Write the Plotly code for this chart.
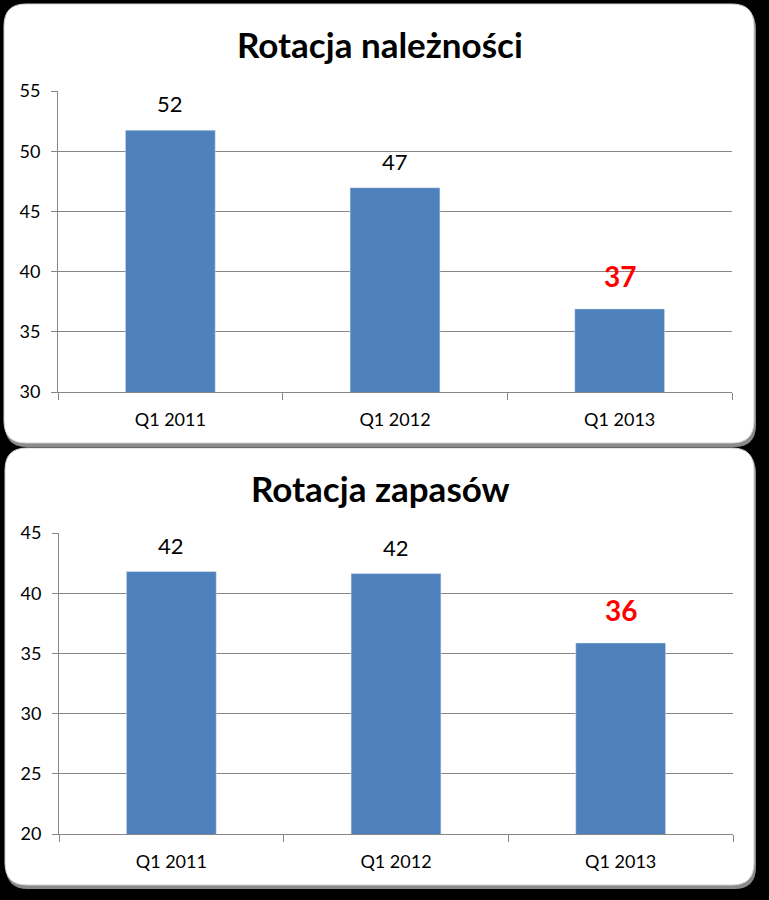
import plotly.graph_objects as go

W, H = 769, 900

categories = ["Q1 2011", "Q1 2012", "Q1 2013"]
naleznosci = [51.75, 46.97, 36.9]
zapasy = [41.8, 41.63, 35.87]
label_colors = ["black", "black", "#ff0000"]

BLUE = "#4f81bd"
GRID = "#868686"
FONT = "Lato, Carlito, Calibri, sans-serif"


def px_x(x):
    return x / W


def px_y(y):
    return 1 - y / H


def rounded_rect(x0, y0, x1, y1, r):
    # path in paper coords built from pixel corners
    pts = [
        f"M {px_x(x0 + r)},{px_y(y0)}",
        f"L {px_x(x1 - r)},{px_y(y0)}",
        f"Q {px_x(x1)},{px_y(y0)} {px_x(x1)},{px_y(y0 + r)}",
        f"L {px_x(x1)},{px_y(y1 - r)}",
        f"Q {px_x(x1)},{px_y(y1)} {px_x(x1 - r)},{px_y(y1)}",
        f"L {px_x(x0 + r)},{px_y(y1)}",
        f"Q {px_x(x0)},{px_y(y1)} {px_x(x0)},{px_y(y1 - r)}",
        f"L {px_x(x0)},{px_y(y0 + r)}",
        f"Q {px_x(x0)},{px_y(y0)} {px_x(x0 + r)},{px_y(y0)}",
        "Z",
    ]
    return " ".join(pts)


panels = [(4, 4, 754, 443), (5, 448, 754, 885)]

shapes = []
for (x0, y0, x1, y1) in panels:
    # soft grey shadow under each panel
    shapes.append(dict(type="path", xref="paper", yref="paper", layer="below",
                       path=rounded_rect(x0 + 1, y0 + 3, x1 + 2, y1 + 4, 22),
                       fillcolor="#8a8a8a", line=dict(width=0)))
    shapes.append(dict(type="path", xref="paper", yref="paper", layer="below",
                       path=rounded_rect(x0, y0, x1, y1, 22),
                       fillcolor="white", line=dict(color="#d0d0d0", width=1)))

fig = go.Figure()
fig.add_trace(go.Bar(x=categories, y=naleznosci, marker_color=BLUE,
                     xaxis="x", yaxis="y", showlegend=False))
fig.add_trace(go.Bar(x=categories, y=zapasy, marker_color=BLUE,
                     xaxis="x2", yaxis="y2", showlegend=False))

annotations = [
    dict(text="<b>Rotacja należności</b>", x=px_x(380), y=px_y(44), xref="paper", yref="paper",
         xanchor="center", yanchor="middle", showarrow=False, font=dict(size=35, color="black", family=FONT)),
    dict(text="<b>Rotacja zapasów</b>", x=px_x(380), y=px_y(488), xref="paper", yref="paper",
         xanchor="center", yanchor="middle", showarrow=False, font=dict(size=35, color="black", family=FONT)),
]

for axis, vals in (("", naleznosci), ("2", zapasy)):
    for cat, v, c in zip(categories, vals, label_colors):
        red = c != "black"
        annotations.append(dict(
            text=f"<b>{v:.0f}</b>" if red else f"{v:.0f}",
            x=cat, y=v, xref="x" + axis, yref="y" + axis,
            xanchor="center", yanchor="bottom", yshift=14 if red else 11, showarrow=False,
            font=dict(size=28 if red else 22, color=c, family=FONT)))

xaxis_style = dict(showline=True, linecolor=GRID, linewidth=1, ticks="outside", tickson="boundaries",
                   ticklen=7, tickcolor=GRID, ticklabelstandoff=11, automargin=False,
                   tickfont=dict(size=18, color="black", family=FONT), fixedrange=True)
yaxis_style = dict(showline=True, linecolor=GRID, linewidth=1, ticks="outside", ticklen=6,
                   tickcolor=GRID, dtick=5, showgrid=True, gridcolor=GRID, gridwidth=1,
                   zeroline=False, ticklabelstandoff=7, automargin=False,
                   tickfont=dict(size=18, color="black", family=FONT), fixedrange=True)

fig.update_layout(
    width=W, height=H,
    margin=dict(l=0, r=0, t=0, b=0),
    paper_bgcolor="black",
    plot_bgcolor="rgba(0,0,0,0)",
    bargap=0.6,
    shapes=shapes,
    annotations=annotations,
    xaxis=dict(domain=[px_x(58), px_x(732)], anchor="y", **xaxis_style),
    yaxis=dict(domain=[px_y(392), px_y(91)], anchor="x", range=[30, 55], **yaxis_style),
    xaxis2=dict(domain=[px_x(59), px_x(733)], anchor="y2", **xaxis_style),
    yaxis2=dict(domain=[px_y(834), px_y(533)], anchor="x2", range=[20, 45], **yaxis_style),
)

fig.write_html("out.html", config={"displayModeBar": False},
               post_script="document.body.style.margin='0';document.body.style.background='black';")
